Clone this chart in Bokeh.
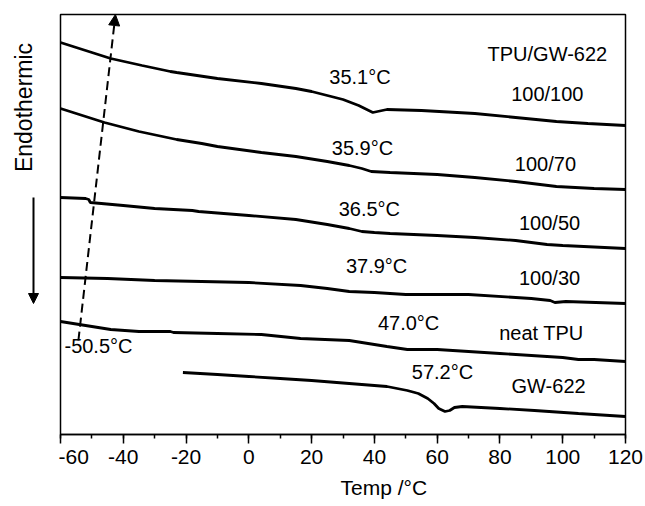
import math
from bokeh.plotting import figure
from bokeh.models import Label, Arrow, NormalHead, Range1d, FixedTicker, Title
from bokeh.layouts import row
from bokeh.embed import file_html
from bokeh.resources import INLINE

# ---- data (temperature in degC, heat flow in arbitrary units, curves offset) ----
t_100_100 = [-60, -52, -44, -34, -25, -23, -10, 4, 15, 20, 25, 30, 35, 39.5, 41, 44, 55, 72, 85, 98, 108, 120]
h_100_100 = [392, 384, 376, 369, 363, 362, 356, 351, 346, 343, 339, 335, 329, 322, 323, 325, 324, 321, 317, 313, 311, 309]

t_100_70 = [-60, -53, -46, -35, -23, -15, -10, 4, 15, 25, 32, 36, 39, 45, 60, 72, 85, 98, 110, 120]
h_100_70 = [326, 319, 312, 303, 295, 291, 288, 282, 278, 273, 269, 266, 263, 262, 260, 257, 253, 248, 246, 245]

t_100_50 = [-60, -52, -51, -50.5, -40, -30, -18, -16, 0, 15, 25, 32, 36, 40, 45, 60, 72, 85, 95, 100, 120]
h_100_50 = [237, 236, 235, 232, 229, 226, 224, 223, 219, 215, 210, 206, 203, 202, 201, 199, 197, 194, 190, 189, 186]

t_100_30 = [-60, -45, -30, -15, 0, 16.5, 25, 32, 40, 50, 70, 90, 96, 97.5, 101, 120]
h_100_30 = [157, 156, 154, 153, 152, 149, 146, 143, 142, 140, 140, 136, 134, 132, 133, 131]

t_neat = [-60, -52, -44, -35, -25, -24, -10, 4, 16.5, 32, 38, 44, 50.5, 60, 80, 100, 105, 110, 120]
h_neat = [113, 109, 105, 103, 103, 102, 101, 100, 96, 94, 91, 88, 85, 85, 81, 77, 75, 75, 73]

t_gw = [-21, -10, 0, 10, 20, 32, 44, 50.5, 54, 57, 59, 60.5, 62.5, 64, 65.5, 68, 80, 91, 105, 120]
h_gw = [62, 60, 58, 56, 54, 51, 48, 44, 41, 36, 31, 26, 23, 24, 27, 28, 26, 24, 21, 18]

x_ticks = [-60, -40, -20, 0, 20, 40, 60, 80, 100, 120]
x_tick_labels = ["-60", "-40", "-20", "0", "20", "40", "60", "80", "100", "120"]

# text annotations: (text, x, y)
notes = [
    ("TPU/GW-622", 95.1, 381),
    ("100/100", 95.1, 341),
    ("35.1\u00b0C", 35.4, 358),
    ("35.9\u00b0C", 36.2, 287),
    ("100/70", 94.5, 271),
    ("36.5\u00b0C", 38.4, 226),
    ("100/50", 95.8, 212),
    ("37.9\u00b0C", 40.7, 169),
    ("100/30", 95.8, 157),
    ("47.0\u00b0C", 50.9, 112),
    ("neat TPU", 93.2, 102),
    ("57.2\u00b0C", 61.7, 63),
    ("GW-622", 95.5, 49),
    ("-50.5\u00b0C", -47.9, 89),
]

FONT = "Liberation Sans"

# ---- side panel with the "Endothermic" direction indicator ----
side = figure(width=58, height=506, output_backend="svg", toolbar_location=None,
              x_range=Range1d(0, 58), y_range=Range1d(0, 420),
              min_border_left=0, min_border_right=0, min_border_top=14, min_border_bottom=72)
side.axis.visible = False
side.grid.visible = False
side.outline_line_color = None
side.background_fill_color = "white"
side.border_fill_color = "white"
side.add_layout(Arrow(x_start=33, y_start=237, x_end=33, y_end=131,
                      line_width=2, line_color="black",
                      end=NormalHead(size=10, fill_color="black", line_color="black")))
side.add_layout(Label(x=23, y=327, text="Endothermic", angle=math.pi / 2,
                      text_font=FONT, text_font_size="23px", text_align="center",
                      text_baseline="middle", text_color="black"))

# ---- main chart ----
p = figure(width=587, height=506, output_backend="svg", toolbar_location=None,
           x_range=Range1d(-60, 120), y_range=Range1d(0, 420),
           min_border_left=2, min_border_right=20, min_border_top=14, min_border_bottom=72)
p.background_fill_color = "white"
p.border_fill_color = "white"
p.grid.visible = False
p.yaxis.visible = False
p.outline_line_color = "black"
p.outline_line_width = 1.5

ax = p.xaxis[0]
ax.ticker = FixedTicker(ticks=x_ticks, minor_ticks=list(range(-60, 121, 10)))
ax.major_label_overrides = dict(zip(x_ticks, x_tick_labels))
ax.axis_line_width = 1.5
ax.major_tick_line_width = 1.5
ax.minor_tick_line_width = 1.5
ax.major_tick_out = 9
ax.major_tick_in = 0
ax.minor_tick_out = 4
ax.minor_tick_in = 0
ax.major_label_text_font = FONT
ax.major_label_text_font_size = "21px"
ax.major_label_text_color = "black"
ax.major_label_standoff = 6

p.add_layout(Title(text="Temp /\u00b0C", align="left", offset=280,
                   text_font=FONT, text_font_size="21px", text_font_style="normal",
                   text_color="black", standoff=14), "below")

for t, h in [(t_100_100, h_100_100), (t_100_70, h_100_70), (t_100_50, h_100_50),
             (t_100_30, h_100_30), (t_neat, h_neat), (t_gw, h_gw)]:
    p.line(t, h, line_color="black", line_width=2.8)

for txt, x, y in notes:
    p.add_layout(Label(x=x, y=y, text=txt, text_font=FONT, text_font_size="20px",
                       text_align="center", text_baseline="middle", text_color="black"))

# dashed guide arrow for the soft-segment Tg
p.add_layout(Arrow(x_start=-54.3, y_start=94, x_end=-42.5, y_end=420,
                   line_dash="9 5", line_width=2, line_color="black",
                   end=NormalHead(size=11, fill_color="black", line_color="black")))

layout = row(side, p, spacing=0)
open("out.html", "w").write(file_html(layout, INLINE))
